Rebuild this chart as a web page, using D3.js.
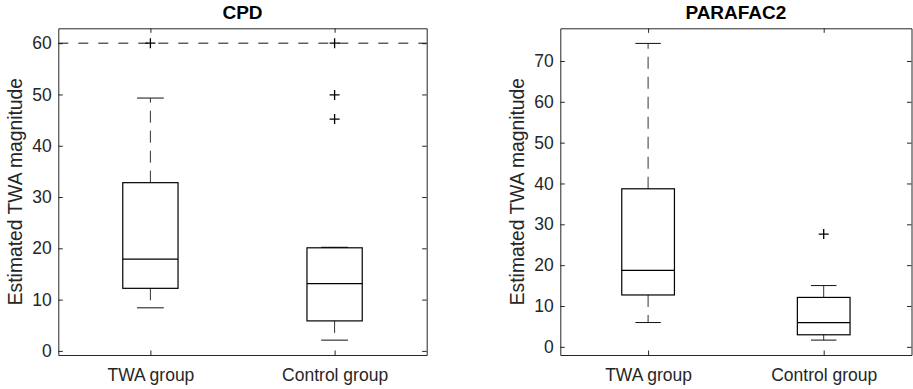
<!DOCTYPE html>
<html>
<head>
<meta charset="utf-8">
<script src="https://cdn.jsdelivr.net/npm/d3@7"></script>
<style>
  body { margin: 0; background: #fff; }
  svg { display: block; }
  text { font-family: "Liberation Sans", Arial, sans-serif; fill: #262626; }
  .axis path, .axis line { stroke: #262626; }
  .axis text { font-size: 17.5px; fill: #262626; }
</style>
</head>
<body>
<svg id="chart" width="913" height="389"></svg>
<script>
// groups and tick labels
var groups = ["TWA group", "Control group"];
var cpdTicks = [0, 10, 20, 30, 40, 50, 60];
var parTicks = [0, 10, 20, 30, 40, 50, 60, 70];

// CPD box stats per group
var cpdLow = [8.4, 2.1];
var cpdQ1 = [12.2, 5.85];
var cpdMed = [17.9, 13.1];
var cpdQ3 = [32.8, 20.1];
var cpdHigh = [49.3, 20.2];
var cpdOutliers = [[60], [60, 49.9, 45.2]];
var cpdRefLine = 60;

// PARAFAC2 box stats per group
var parLow = [5.95, 1.65];
var parQ1 = [12.7, 2.95];
var parMed = [18.7, 5.95];
var parQ3 = [38.7, 12.1];
var parHigh = [74.3, 15.0];
var parOutliers = [[], [27.6]];

var svg = d3.select("#chart");

function drawPanel(opt) {
  var x = d3.scaleLinear().domain([0.5, 2.5]).range([opt.left, opt.right]);
  var y = d3.scaleLinear().domain(opt.yDomain).range([opt.bottom, opt.top]);
  var g = svg.append("g");
  var tick = 4.5;

  // axes, ticks pointing inwards
  g.append("g").attr("class", "axis")
      .attr("transform", "translate(" + opt.left + ",0)")
      .call(d3.axisLeft(y).tickValues(opt.ticks).tickSize(-tick).tickSizeOuter(0).tickPadding(6.6));
  g.append("g").attr("class", "axis")
      .attr("transform", "translate(" + opt.right + ",0)")
      .call(d3.axisRight(y).tickValues(opt.ticks).tickSize(-tick).tickSizeOuter(0).tickFormat(""));
  g.append("g").attr("class", "axis")
      .attr("transform", "translate(0," + opt.bottom + ")")
      .call(d3.axisBottom(x).tickValues([1, 2]).tickSize(-tick).tickSizeOuter(0).tickPadding(13.5)
        .tickFormat(function(d) { return groups[d - 1]; }));
  g.append("g").attr("class", "axis")
      .attr("transform", "translate(0," + opt.top + ")")
      .call(d3.axisTop(x).tickValues([1, 2]).tickSize(-tick).tickSizeOuter(0).tickFormat(""));

  // reference line
  if (opt.refLine != null) {
    g.append("line")
      .attr("x1", opt.left).attr("x2", opt.right)
      .attr("y1", y(opt.refLine)).attr("y2", y(opt.refLine))
      .attr("stroke", "#111").attr("stroke-width", 1)
      .attr("stroke-dasharray", "10,10");
  }

  var bw = 0.3, cw = 0.145;
  groups.forEach(function(name, i) {
    var c = i + 1;
    // whiskers
    [[opt.q3[i], opt.high[i]], [opt.q1[i], opt.low[i]]].forEach(function(w) {
      g.append("line")
        .attr("x1", x(c)).attr("x2", x(c))
        .attr("y1", y(w[0])).attr("y2", y(w[1]))
        .attr("stroke", "#333").attr("stroke-dasharray", "12,8");
      g.append("line")
        .attr("x1", x(c - cw / 2)).attr("x2", x(c + cw / 2))
        .attr("y1", y(w[1])).attr("y2", y(w[1]))
        .attr("stroke", "#111");
    });
    // box
    g.append("rect")
      .attr("x", x(c - bw / 2)).attr("width", x(c + bw / 2) - x(c - bw / 2))
      .attr("y", y(opt.q3[i])).attr("height", y(opt.q1[i]) - y(opt.q3[i]))
      .attr("fill", "none").attr("stroke", "#000").attr("stroke-width", 1.2);
    // median
    g.append("line")
      .attr("x1", x(c - bw / 2)).attr("x2", x(c + bw / 2))
      .attr("y1", y(opt.med[i])).attr("y2", y(opt.med[i]))
      .attr("stroke", "#000").attr("stroke-width", 1.2);
    // outliers
    opt.outliers[i].forEach(function(v) {
      var px = x(c), py = y(v), s = 5;
      g.append("path")
        .attr("d", "M" + (px - s) + "," + py + "H" + (px + s) + "M" + px + "," + (py - s) + "V" + (py + s))
        .attr("stroke", "#000").attr("stroke-width", 1.3);
    });
  });

  g.append("text")
    .attr("x", (opt.left + opt.right) / 2).attr("y", 19)
    .attr("text-anchor", "middle")
    .style("font-size", "19px").style("font-weight", "bold").style("fill", "#000")
    .text(opt.title);

  g.append("text")
    .attr("transform", "translate(" + opt.labelX + "," + ((opt.top + opt.bottom) / 2) + ") rotate(-90)")
    .attr("text-anchor", "middle").attr("dy", "0.35em")
    .style("font-size", "19.3px")
    .text("Estimated TWA magnitude");
}

drawPanel({
  title: "CPD", left: 58.3, right: 426.7, top: 28.3, bottom: 355,
  yDomain: [-0.8, 62.9], ticks: cpdTicks, labelX: 15,
  low: cpdLow, q1: cpdQ1, med: cpdMed, q3: cpdQ3, high: cpdHigh,
  outliers: cpdOutliers, refLine: cpdRefLine
});

drawPanel({
  title: "PARAFAC2", left: 560.3, right: 911.5, top: 28.3, bottom: 355,
  yDomain: [-2, 78], ticks: parTicks, labelX: 517,
  low: parLow, q1: parQ1, med: parMed, q3: parQ3, high: parHigh,
  outliers: parOutliers, refLine: null
});
</script>
</body>
</html>
